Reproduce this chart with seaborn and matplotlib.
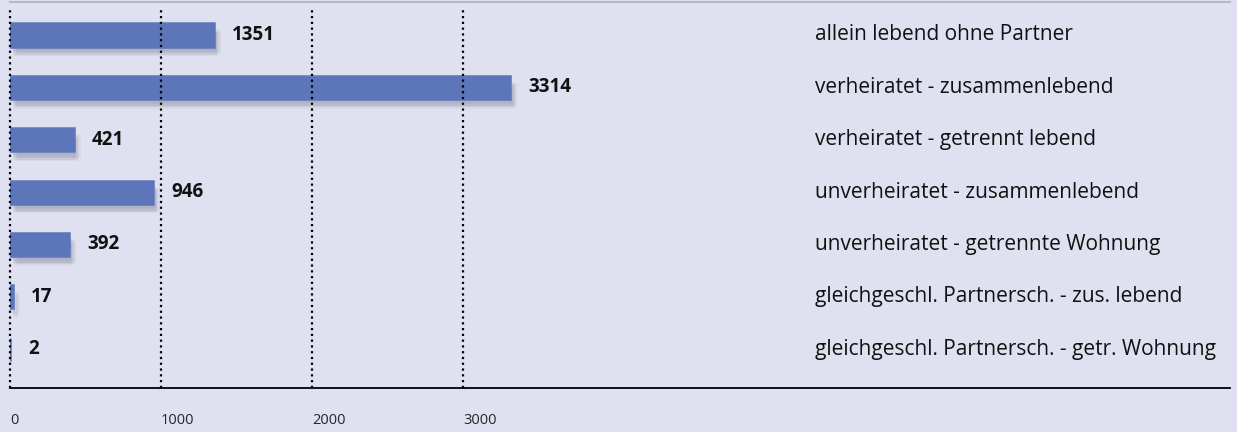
import pandas as pd
import matplotlib
matplotlib.use('Agg')
import matplotlib.pyplot as plt
import matplotlib.patheffects as pe
import seaborn as sns

# Data
categories = [
    'allein lebend ohne Partner',
    'verheiratet - zusammenlebend',
    'verheiratet - getrennt lebend',
    'unverheiratet - zusammenlebend',
    'unverheiratet - getrennte Wohnung',
    'gleichgeschl. Partnersch. - zus. lebend',
    'gleichgeschl. Partnersch. - getr. Wohnung',
]
counts = [1351, 3314, 421, 946, 392, 17, 2]
tick_values = [0, 1000, 2000, 3000]

bg = '#dfe0f0'
bar_color = '#5c76b9'

df = pd.DataFrame({'category': categories, 'count': counts})

sns.set_style('white')
plt.rcParams['font.family'] = ['Open Sans', 'DejaVu Sans']

fig = plt.figure(figsize=(12.37, 4.32), dpi=100, facecolor=bg)
ax = fig.add_axes([10 / 1237, 1 - 388 / 432, 1220 / 1237, 386 / 432])
ax.set_facecolor(bg)

sns.barplot(data=df, y='category', x='count', orient='h', color=bar_color,
            saturation=1, width=0.44, ax=ax, zorder=3)

# soft drop shadow on bars (a few faint layers to fake a blur)
shadow = []
for dx, dy in [(1, -3), (2, -4), (3, -5), (4, -6), (3, -7), (5, -5), (2, -6)]:
    shadow.append(pe.SimplePatchShadow(offset=(dx, dy), shadow_rgbFace='#6e708a', alpha=0.07))
for p in ax.patches:
    p.set_edgecolor(bar_color)
    p.set_linewidth(1.8)
    p.set_path_effects(shadow + [pe.Normal()])

ax.set_xlim(0, 8080)
ax.set_ylim(6.74, -0.63)

# value labels
for i, v in enumerate(counts):
    ax.annotate(str(v), (v, i), xytext=(13, 0), textcoords='offset points',
                ha='left', va='center', fontsize=13.5, fontweight='bold', color='#111111')

# category labels on the right
for i, c in enumerate(categories):
    ax.text(0.66, i, c, transform=ax.get_yaxis_transform(), ha='left', va='center',
            fontsize=15, color='#111111')

# dotted grid
for t in tick_values:
    ax.axvline(t, color='black', linestyle=(0, (1, 1.6)), linewidth=1.6, zorder=4,
               ymax=0.985, clip_on=False)

ax.set_xticks(tick_values)
ax.set_xticklabels([str(t) for t in tick_values], ha='left', fontsize=10.5)
ax.tick_params(axis='x', length=0, pad=18)
ax.set_yticks([])
ax.set_xlabel('')
ax.set_ylabel('')

for s in ['left', 'right']:
    ax.spines[s].set_visible(False)
ax.spines['top'].set_color('#b4b6cc')
ax.spines['top'].set_linewidth(1.5)
ax.spines['bottom'].set_color('black')
ax.spines['bottom'].set_linewidth(1.3)

fig.savefig('out.png', dpi=100, facecolor=bg)
